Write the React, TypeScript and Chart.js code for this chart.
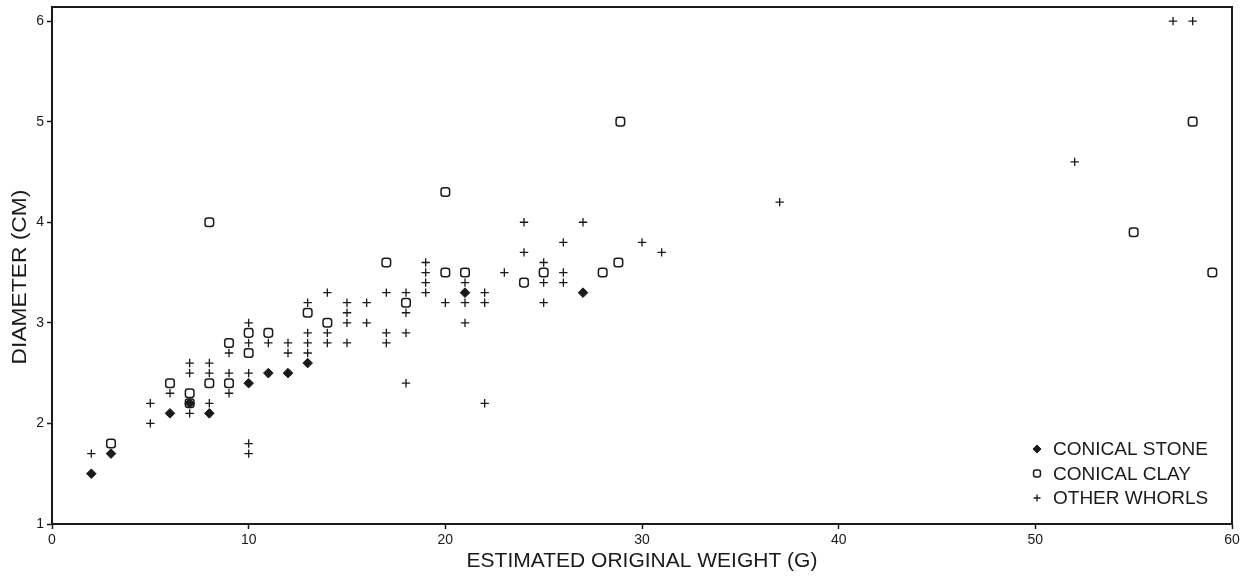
import React, { useEffect, useRef } from "react";
import { Chart, registerables } from "chart.js";
import { drawPoint } from "chart.js/helpers";

Chart.register(...registerables);

const seriesLabels = ["CONICAL STONE", "CONICAL CLAY", "OTHER WHORLS"];

const stoneX = [2, 3, 6, 7, 8, 10, 11, 12, 13, 21, 27];
const stoneY = [1.5, 1.7, 2.1, 2.2, 2.1, 2.4, 2.5, 2.5, 2.6, 3.3, 3.3];

const clayX = [3, 6, 7, 7, 8, 8, 9, 9, 10, 10, 11, 13, 14, 17, 18, 20, 20, 21, 24, 25, 28, 28.8, 28.9, 55, 58, 59];
const clayY = [1.8, 2.4, 2.3, 2.2, 4.0, 2.4, 2.8, 2.4, 2.9, 2.7, 2.9, 3.1, 3.0, 3.6, 3.2, 4.3, 3.5, 3.5, 3.4, 3.5, 3.5, 3.6, 5.0, 3.9, 5.0, 3.5];

const otherX = [
  2, 5, 5, 6, 7, 7, 7, 8, 8, 8, 9, 9, 9, 10, 10, 10, 10, 10, 11, 12, 12,
  13, 13, 13, 13, 14, 14, 14, 15, 15, 15, 15, 16, 16, 17, 17, 17,
  18, 18, 18, 18, 19, 19, 19, 19, 20, 21, 21, 21, 22, 22, 22, 23,
  24, 24, 25, 25, 25, 26, 26, 26, 27, 30, 31, 37, 52, 57, 58,
];
const otherY = [
  1.7, 2.2, 2.0, 2.3, 2.6, 2.5, 2.1, 2.6, 2.5, 2.2, 2.7, 2.5, 2.3, 3.0, 2.8, 2.5, 1.8, 1.7, 2.8, 2.8, 2.7,
  3.2, 2.9, 2.8, 2.7, 3.3, 2.9, 2.8, 3.2, 3.1, 3.0, 2.8, 3.2, 3.0, 3.3, 2.9, 2.8,
  3.3, 3.1, 2.9, 2.4, 3.6, 3.5, 3.4, 3.3, 3.2, 3.4, 3.2, 3.0, 3.3, 3.2, 2.2, 3.5,
  4.0, 3.7, 3.6, 3.4, 3.2, 3.8, 3.5, 3.4, 4.0, 3.8, 3.7, 4.2, 4.6, 6.0, 6.0,
];

const xTitle = "ESTIMATED ORIGINAL WEIGHT (G)";
const yTitle = "DIAMETER (CM)";

const FONT = "'Liberation Sans', Arial, Helvetica, sans-serif";
const INK = "#1a1a1a";

const toPoints = (xs: number[], ys: number[]) => xs.map((x, i) => ({ x, y: ys[i] }));

const framePlugin = {
  id: "frame",
  afterDraw(chart: any) {
    const { ctx, chartArea } = chart;
    const { left, right, top, bottom } = chartArea;
    ctx.save();
    ctx.strokeStyle = INK;
    ctx.lineWidth = 2;
    ctx.beginPath();
    ctx.moveTo(left - 1, top);
    ctx.lineTo(right, top);
    ctx.lineTo(right, bottom);
    ctx.stroke();
    ctx.restore();
  },
};

const yTitlePlugin = {
  id: "yTitle",
  afterDraw(chart: any) {
    const { ctx } = chart;
    ctx.save();
    ctx.translate(20, 277);
    ctx.rotate(-Math.PI / 2);
    ctx.scale(1.14, 1);
    ctx.fillStyle = INK;
    ctx.font = `20px ${FONT}`;
    ctx.textAlign = "center";
    ctx.textBaseline = "middle";
    ctx.fillText(yTitle, 0, 0);
    ctx.restore();
  },
};

const legendPlugin = {
  id: "cornerLegend",
  afterDraw(chart: any) {
    const { ctx, chartArea } = chart;
    const markerX = chartArea.right - 195;
    const textX = markerX + 16;
    const rowsY = [449, 473.5, 498];
    const sizes = [4, 4, 3.5];
    ctx.save();
    chart.data.datasets.forEach((ds: any, i: number) => {
      const y = rowsY[i];
      ctx.strokeStyle = ds.borderColor;
      ctx.fillStyle = ds.backgroundColor;
      ctx.lineWidth = ds.borderWidth;
      drawPoint(ctx, { pointStyle: ds.pointStyle, radius: sizes[i], borderWidth: ds.borderWidth, rotation: 0 }, markerX, y);
      ctx.fillStyle = INK;
      ctx.font = `19px ${FONT}`;
      ctx.textAlign = "left";
      ctx.textBaseline = "middle";
      ctx.fillText(ds.label, textX, y + 1);
    });
    ctx.restore();
  },
};

export default function App() {
  const canvasRef = useRef<HTMLCanvasElement | null>(null);

  useEffect(() => {
    if (!canvasRef.current) return;
    const chart = new Chart(canvasRef.current, {
      type: "scatter",
      data: {
        datasets: [
          {
            label: seriesLabels[0],
            data: toPoints(stoneX, stoneY),
            pointStyle: "rectRot",
            pointRadius: 4.8,
            backgroundColor: INK,
            borderColor: INK,
            borderWidth: 1,
          },
          {
            label: seriesLabels[1],
            data: toPoints(clayX, clayY),
            pointStyle: "rectRounded",
            pointRadius: 5,
            backgroundColor: "rgba(0,0,0,0)",
            borderColor: INK,
            borderWidth: 1.5,
          },
          {
            label: seriesLabels[2],
            data: toPoints(otherX, otherY),
            pointStyle: "cross",
            pointRadius: 4.2,
            backgroundColor: INK,
            borderColor: INK,
            borderWidth: 1.3,
          },
        ],
      },
      options: {
        animation: false,
        responsive: true,
        maintainAspectRatio: false,
        layout: { padding: { top: 7, right: 17, left: 0, bottom: 0 } },
        plugins: {
          legend: { display: false },
          tooltip: { enabled: false },
        },
        scales: {
          x: {
            type: "linear",
            min: 0,
            max: 60,
            afterFit(scale: any) {
              scale.height = 55;
              scale.paddingLeft = 0;
              scale.paddingRight = 0;
            },
            ticks: {
              stepSize: 10,
              color: INK,
              font: { family: FONT, size: 14 },
              padding: 3,
              maxRotation: 0,
            },
            grid: {
              display: true,
              drawOnChartArea: false,
              drawTicks: true,
              tickLength: 5,
              color: INK,
              tickWidth: 1.5,
            },
            border: { display: true, color: INK, width: 2 },
            title: {
              display: true,
              text: xTitle,
              color: INK,
              font: { family: FONT, size: 21 },
              padding: 5,
            },
          },
          y: {
            type: "linear",
            min: 1,
            max: 6.14,
            afterFit(scale: any) {
              scale.width = 52;
              scale.paddingTop = 0;
              scale.paddingBottom = 0;
            },
            ticks: {
              stepSize: 1,
              includeBounds: false,
              color: INK,
              font: { family: FONT, size: 14 },
              padding: 3,
            },
            grid: {
              display: true,
              drawOnChartArea: false,
              drawTicks: true,
              tickLength: 5,
              color: INK,
              tickWidth: 1.5,
            },
            border: { display: true, color: INK, width: 2 },
            title: { display: false, text: yTitle },
          },
        },
      },
      plugins: [framePlugin, yTitlePlugin, legendPlugin],
    });
    return () => chart.destroy();
  }, []);

  return (
    <div style={{ position: "fixed", left: 0, top: 0, width: 1249, height: 579, background: "#fff" }}>
      <canvas ref={canvasRef} />
    </div>
  );
}
